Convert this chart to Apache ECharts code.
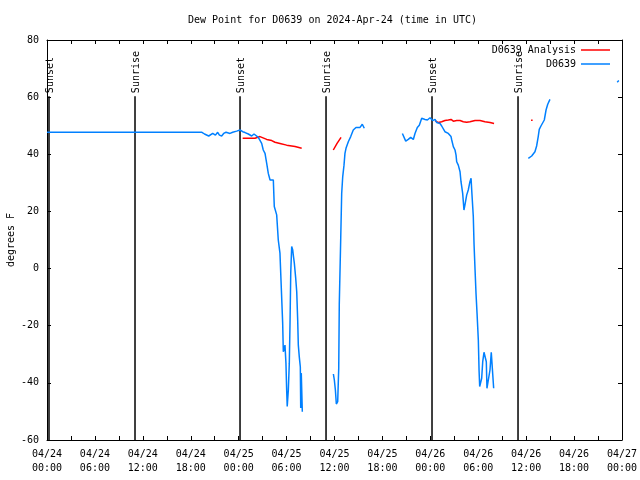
<!DOCTYPE html>
<html>
<head>
<meta charset="utf-8">
<script src="https://cdn.jsdelivr.net/npm/echarts@6/dist/echarts.min.js"></script>
<style>html,body{margin:0;padding:0;background:#fff;}#c{width:640px;height:480px;}</style>
</head>
<body>
<div id="c"></div>
<script>
// ---- data (hours since 2024-04-24 00:00 UTC, degrees F) ----
const titleText = 'Dew Point for D0639 on 2024-Apr-24 (time in UTC)';
const yName = 'degrees F';
const tickLabels = ['04/24\n00:00','04/24\n06:00','04/24\n12:00','04/24\n18:00','04/25\n00:00','04/25\n06:00','04/25\n12:00','04/25\n18:00','04/26\n00:00','04/26\n06:00','04/26\n12:00','04/26\n18:00','04/27\n00:00'];
const sunTimes = [0.25, 11.02, 24.17, 34.94, 48.21, 58.98];
const sunLabels = ['Sunset','Sunrise','Sunset','Sunrise','Sunset','Sunrise'];

const analysisName = 'D0639 Analysis';
const analysisData = [
  [24.5,45.6],[26.04,45.6],[26.67,46.2],[27.51,45.2],[28.14,44.8],[28.55,44.2],[29.17,43.8],[30.01,43.2],[31.06,42.7],[31.89,42.1],
  [33,null],
  [35.85,41.5],[36.32,43.8],[36.82,45.9],
  [42,null],
  [48.59,51.8],[49.0,51.1],[49.42,51.4],[49.83,51.8],[50.25,52.0],[50.59,52.2],[50.88,51.6],[51.3,51.8],[51.72,51.8],[52.13,51.4],[52.55,51.2],[52.96,51.4],[53.6,51.8],[54.22,51.8],[54.84,51.4],[55.47,51.1],[55.98,50.8],
  [58,null],
  [60.61,51.9],[60.81,51.9]
];

const obsName = 'D0639';
const obsData = [
  [0,47.7],[19.4,47.7],[19.72,47.1],[20.25,46.4],[20.75,47.3],[21.09,46.7],[21.37,47.7],[21.59,46.7],[21.87,46.4],[22.12,47.3],[22.42,47.7],[22.62,48.1],[22.92,47.3],[23.25,47.7],[23.75,48.1],
  [24.16,48.5],[24.51,47.9],[24.8,47.6],[25.21,47.1],[25.42,47.6],[25.63,46.4],[25.92,47.1],[26.17,46.7],[26.46,45.9],[26.67,45.2],[26.88,43.8],[27.08,41.5],[27.3,40.3],[27.51,36.8],[27.71,33.3],[27.93,31.0],[28.14,31.2],[28.34,31.0],[28.46,21.7],[28.76,18.8],[28.96,10.0],[29.17,5.4],[29.3,-4.0],[29.51,-19.1],[29.59,-29.1],[29.8,-26.8],[29.92,-33.1],[30.01,-42.5],[30.08,-48.3],[30.22,-42.5],[30.34,-33.1],[30.43,-19.1],[30.52,-1.6],[30.64,7.7],[30.77,6.5],[30.84,4.7],[30.97,1.9],[31.14,-3.3],[31.27,-8.1],[31.39,-18.0],[31.47,-26.8],[31.59,-30.9],[31.72,-34.4],[31.77,-48.8],[31.84,-36.6],[31.97,-50.1],
  [33,null],
  [35.86,-36.9],[35.98,-39.0],[36.11,-42.5],[36.23,-47.4],[36.4,-46.6],[36.53,-34.9],[36.6,-12.2],[36.78,10.6],[36.9,26.3],[37.03,32.2],[37.19,36.2],[37.31,40.3],[37.44,42.1],[37.73,44.4],[38.03,46.2],[38.35,48.5],[38.69,49.4],[39.2,49.4],[39.48,50.5],[39.73,49.1],
  [42,null],
  [44.5,47.3],[44.92,44.6],[45.24,45.2],[45.54,45.9],[45.87,45.2],[46.08,47.3],[46.37,49.4],[46.62,50.2],[46.92,52.6],[47.34,52.2],[47.63,52.0],[47.96,52.8],[48.3,51.8],[48.59,52.2],[48.8,51.1],[49.21,50.8],[49.42,49.9],[49.62,50.6],[49.83,47.9],[50.25,47.3],[50.59,46.2],[50.68,45.0],[50.88,42.7],[51.09,41.5],[51.22,39.7],[51.3,37.4],[51.5,36.2],[51.72,33.9],[51.84,30.4],[52.05,26.3],[52.21,20.5],[52.33,22.2],[52.55,25.7],[52.75,27.5],[52.96,30.4],[53.1,31.6],[53.18,27.5],[53.38,18.2],[53.47,8.8],[53.6,-0.5],[53.72,-8.7],[53.85,-15.7],[54.01,-25.0],[54.1,-35.5],[54.18,-41.3],[54.35,-41.3],[54.43,-38.4],[54.56,-32.6],[54.72,-29.3],[54.88,-29.7],[55.01,-32.6],[55.09,-41.9],[55.34,-41.9],[55.47,-35.5],[55.63,-29.3],[55.88,-29.3],[55.93,-41.9],
  [58,null],
  [60.27,38.6],[60.69,39.4],[61.1,40.9],[61.31,42.9],[61.51,46.2],[61.64,48.7],[61.85,49.9],[62.07,50.2],[62.27,52.0],[62.49,55.5],[62.7,57.5],[62.98,59.2],
  [66,null],
  [71.4,65.2],[71.6,65.8]
];

// ---- chart ----
const FONT = 'DejaVu Sans Mono';
const RED = '#ff0000';
const BLUE = '#0080ff';
const chart = echarts.init(document.getElementById('c'), null, {renderer: 'canvas'});

const xBase = {
  type: 'value', min: 0, max: 72, interval: 3,
  axisLine: {show: true, onZero: false, lineStyle: {color: '#000', width: 1}},
  axisTick: {show: true, inside: true, length: 4, lineStyle: {color: '#000'}},
  splitLine: {show: false}
};
const yBase = {
  type: 'value', min: -60, max: 80, interval: 20,
  axisLine: {show: true, onZero: false, lineStyle: {color: '#000', width: 1}},
  axisTick: {show: true, inside: true, length: 4, lineStyle: {color: '#000'}},
  splitLine: {show: false}
};

const option = {
  animation: false,
  backgroundColor: '#fff',
  title: {
    text: titleText, left: 183, top: 10,
    textStyle: {fontFamily: FONT, fontSize: 10, fontWeight: 'normal', color: '#000'}
  },
  legend: [
    {data: [analysisName], right: 25, top: 40, orient: 'vertical', align: 'right',
     icon: 'rect', itemWidth: 29, itemHeight: 1.5, itemGap: 0,
     textStyle: {fontFamily: FONT, fontSize: 10, color: '#000'}},
    {data: [obsName], right: 25, top: 54, orient: 'vertical', align: 'right',
     icon: 'rect', itemWidth: 29, itemHeight: 1.5, itemGap: 0,
     textStyle: {fontFamily: FONT, fontSize: 10, color: '#000'}}
  ],
  grid: {left: 47, right: 18, top: 40, bottom: 40, containLabel: false, outerBoundsMode: 'none'},
  xAxis: [
    Object.assign({}, xBase, {
      position: 'bottom',
      axisLabel: {
        show: true, showMinLabel: true, showMaxLabel: true, margin: 7,
        fontFamily: FONT, fontSize: 10, color: '#000', lineHeight: 14, align: 'center',
        formatter: function (v) {
          const r = Math.round(v);
          return (r % 6 === 0) ? tickLabels[r / 6] : '';
        }
      }
    }),
    Object.assign({}, xBase, {position: 'top', axisLabel: {show: false}})
  ],
  yAxis: [
    Object.assign({}, yBase, {
      position: 'left',
      name: yName, nameLocation: 'middle', nameGap: 31, nameRotate: 90, nameMoveOverlap: false,
      nameTextStyle: {fontFamily: FONT, fontSize: 10, color: '#000'},
      axisLabel: {show: true, margin: 8, fontFamily: FONT, fontSize: 10, color: '#000'}
    }),
    Object.assign({}, yBase, {position: 'right', axisLabel: {show: false}})
  ],
  series: [
    {
      type: 'custom', name: 'sun', silent: true, z: 1,
      data: sunTimes.map((t, i) => [t, i]),
      renderItem: function (params, api) {
        const t = api.value(0);
        const i = api.value(1);
        const top = api.coord([t, 60.3]);
        const bot = api.coord([t, -60]);
        const txt = api.coord([t, 61.4]);
        return {
          type: 'group',
          children: [
            {type: 'line', shape: {x1: top[0], y1: top[1], x2: bot[0], y2: bot[1]},
             style: {stroke: '#000', lineWidth: 1.5}},
            {type: 'text', x: txt[0] + 1, y: txt[1], rotation: Math.PI / 2,
             style: {text: sunLabels[i], font: '10px "' + FONT + '"', fill: '#000',
                     align: 'left', verticalAlign: 'middle'}}
          ]
        };
      }
    },
    {
      type: 'line', name: analysisName, data: analysisData, showSymbol: false,
      connectNulls: false, z: 3,
      lineStyle: {color: RED, width: 1.5}, itemStyle: {color: RED}
    },
    {
      type: 'line', name: obsName, data: obsData, showSymbol: false,
      connectNulls: false, z: 4,
      lineStyle: {color: BLUE, width: 1.5}, itemStyle: {color: BLUE}
    }
  ]
};
chart.setOption(option);
</script>
</body>
</html>
